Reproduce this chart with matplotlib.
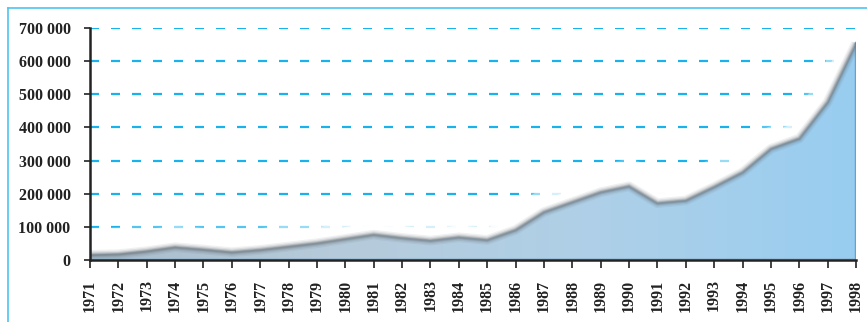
import numpy as np
import matplotlib
matplotlib.use("Agg")
import matplotlib.pyplot as plt
from matplotlib.colors import LinearSegmentedColormap
from matplotlib.lines import Line2D

years = list(range(1971, 1999))
values = [17000, 19000, 28000, 40000, 33000, 25000, 32000, 42000, 52000, 65000,
          78000, 68000, 60000, 70000, 62000, 92000, 146000, 176000, 206000, 224000,
          173000, 181000, 222000, 266000, 337000, 368000, 478000, 655000]
ytick_vals = [0, 100000, 200000, 300000, 400000, 500000, 600000, 700000]
ytick_labels = ["0", "100 000", "200 000", "300 000", "400 000", "500 000", "600 000", "700 000"]

W, H = 867, 322
fig = plt.figure(figsize=(W / 100, H / 100), dpi=100)
fig.patch.set_facecolor("white")

# outer light blue frame (left and top edges)
fig.add_artist(Line2D([7.5 / W, 7.5 / W], [0, 1 - 8 / H], transform=fig.transFigure,
                      color="#4fc3f0", lw=1.2))
fig.add_artist(Line2D([7.5 / W, 1], [1 - 8 / H, 1 - 8 / H], transform=fig.transFigure,
                      color="#4fc3f0", lw=1.2))

left, right = 90 / W, 856 / W
bottom, top = 1 - 260 / H, 1 - 28 / H
ax = fig.add_axes([left, bottom, right - left, top - bottom])
ax.set_xlim(years[0], years[-1])
ax.set_ylim(0, 700000)

# dashed grid
for v in ytick_vals[1:]:
    ax.axhline(v, color="#1ab2ec", lw=1.6, dashes=(4.05, 5.4), zorder=1)

x = np.array(years, dtype=float)
y = np.array(values, dtype=float)

# white glow above the curve
for lw, a in [(34, 0.25), (26, 0.4), (18, 0.6), (12, 0.9), (8, 1.0)]:
    ax.plot(x, y + 9000, color="white", lw=lw, alpha=a, zorder=2,
            solid_capstyle="butt", solid_joinstyle="round")

# gradient fill
poly = ax.fill_between(x, 0, y, color="none", zorder=3)
cmap = LinearSegmentedColormap.from_list(
    "g", ["#aabdcc", "#b6cbdb", "#aed0e8", "#98cdf1"])
grad = np.linspace(0, 1, 256).reshape(1, -1)
im = ax.imshow(grad, extent=[years[0], years[-1], 0, 700000], aspect="auto",
               cmap=cmap, zorder=3, origin="lower")
path = poly.get_paths()[0]
im.set_clip_path(path, transform=ax.transData)

# darker bottom band and right edge
ax.fill_between(x, 0, 6000, color="#8fb3cc", alpha=0.6, zorder=3.5, lw=0)
ax.plot([years[-1], years[-1]], [0, values[-1]], color="#5aa6da", lw=2.5, zorder=3.6)

# soft gray shadow along the top edge
for lw, a in [(7, 0.1), (5, 0.15), (3.2, 0.25), (1.8, 0.35)]:
    ax.plot(x, y - 1500, color="#6a737a", lw=lw, alpha=a, zorder=4,
            solid_joinstyle="round", solid_capstyle="butt")

# spines
for s in ["top", "right"]:
    ax.spines[s].set_visible(False)
for s in ["left", "bottom"]:
    ax.spines[s].set_color("#222222")
    ax.spines[s].set_linewidth(1.8)
    ax.spines[s].set_zorder(5)

yfont = dict(family="Liberation Serif", weight="bold", size=11.5)
xfont = dict(family="Liberation Serif", weight="bold", size=11.5)
ax.set_yticks(ytick_vals)
ax.set_yticklabels(ytick_labels, **yfont, color="#222222")
ax.set_xticks(years)
ax.set_xticklabels([str(v) for v in years], rotation=90, **xfont, color="#222222")
ax.tick_params(axis="y", length=4, width=1.2, pad=10, color="#222222")
ax.tick_params(axis="x", length=6, width=1.2, pad=8, color="#222222")

fig.savefig("out.png", dpi=100, facecolor="white")
